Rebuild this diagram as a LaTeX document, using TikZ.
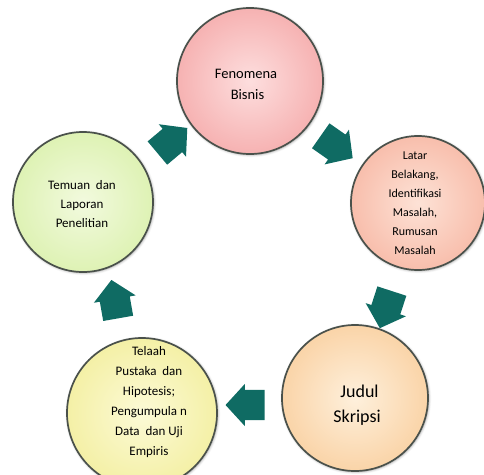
\documentclass[tikz,border=0pt]{standalone}
\usepackage{fontspec}
\setmainfont{Carlito}
\usetikzlibrary{shapes.arrows,shadows.blur}
\definecolor{arrowcol}{HTML}{0F6B63}
\definecolor{ringcol}{HTML}{4A514B}
\begin{document}
\begin{tikzpicture}[x=1pt,y=-1pt,
  bubble/.style={circle, draw=ringcol, line width=1.7pt, inner sep=0pt,
    minimum size=#1, shading=radial,
    blur shadow={shadow xshift=0.8pt, shadow yshift=-0.8pt, shadow blur radius=2.5pt, shadow opacity=40}},
  blockarrow/.style={single arrow, draw=none, fill=arrowcol, inner sep=0pt,
    text width=0pt, text height=15pt, text depth=15pt,
    minimum height=39pt, single arrow head extend=6pt,
    single arrow tip angle=95, rotate=#1},
  lbl/.style={align=center, text=black}
]
\useasboundingbox (0,0) rectangle (484,474);
% circles
\node[bubble=146pt, inner color={rgb,255:red,253;green,222;blue,222}, outer color={rgb,255:red,246;green,178;blue,178}] (c1) at (250,81) {};
\node[bubble=134pt, inner color={rgb,255:red,253;green,226;blue,214}, outer color={rgb,255:red,248;green,190;blue,172}] (c2) at (418,203) {};
\node[bubble=146pt, inner color={rgb,255:red,254;green,240;blue,220}, outer color={rgb,255:red,250;green,212;blue,168}] (c3) at (355,398) {};
\node[bubble=150pt, inner color={rgb,255:red,252;green,250;blue,214}, outer color={rgb,255:red,244;green,240;blue,166}] (c4) at (142,413) {};
\node[bubble=140pt, inner color={rgb,255:red,242;green,250;blue,222}, outer color={rgb,255:red,222;green,242;blue,180}] (c5) at (83,202) {};
% texts
\node[lbl, font={\fontsize{14.5}{21}\selectfont}] (t1) at (246,84) {Fenomena\\\hspace*{3pt}Bisnis};
\node[lbl, font={\fontsize{12}{19}\selectfont}] (t2) at (415,203) {Latar\\Belakang,\\Identifikasi\\Masalah,\\Rumusan\\Masalah};
\node[lbl, font={\fontsize{18}{25}\selectfont}] (t3) at (357,405) {\hspace*{5pt}Judul\\Skripsi};
\node[lbl, font={\fontsize{13}{20}\selectfont}] (t4) at (149,402) {Telaah\\Pustaka\ \ dan\\Hipotesis;\\Pengumpula n\\Data\ \ dan Uji\\Empiris};
\node[lbl, font={\fontsize{13}{19}\selectfont}] (t5) at (82,204) {Temuan\ \ dan\\Laporan\\Penelitian};
% arrows
\node[blockarrow=40] (a1) at (167,145) {};
\node[blockarrow=-35] (a2) at (331,143) {};
\node[blockarrow=-108] (a3) at (388,303) {};
\node[blockarrow=180] (a4) at (252,405) {};
\node[blockarrow=100] (a5) at (116,306) {};
\end{tikzpicture}
\end{document}
